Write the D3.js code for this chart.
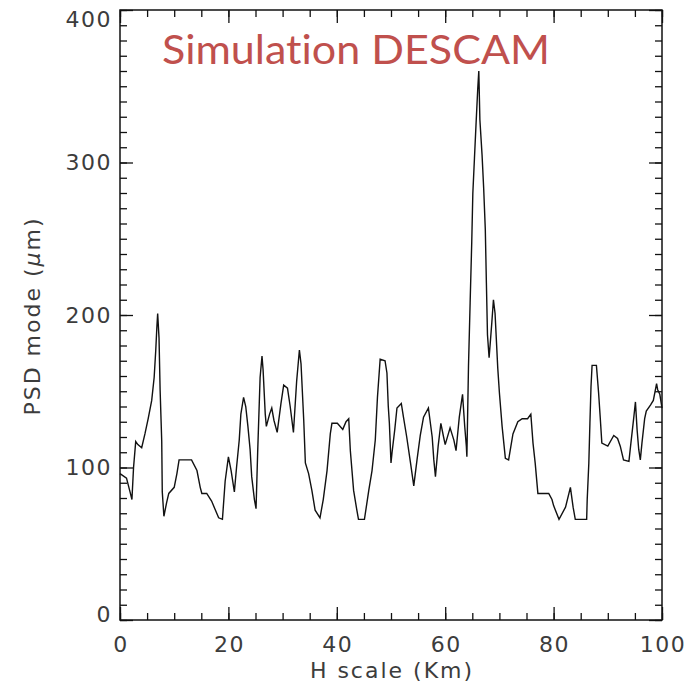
<!DOCTYPE html>
<html>
<head>
<meta charset="utf-8">
<script src="https://cdn.jsdelivr.net/npm/d3@7"></script>
<style>
  body { margin: 0; background: #fff; }
  text { font-variant-ligatures: none; }
</style>
</head>
<body>
<div id="chart"></div>
<script>
// H scale (km) and PSD mode (um)
var hScale = [0, 1.2, 1.85, 2.2, 2.5, 2.9, 3.3, 4.0, 4.6, 5.2, 5.85, 6.3, 6.6, 6.8, 6.95, 7.2, 7.4, 7.7, 7.8, 8.1,
  8.6, 9.0, 10.0, 10.5, 10.9, 13.2, 14.2, 14.8, 15.1, 16.0, 16.9, 18.2, 18.9, 19.4, 20.0, 20.5, 21.1, 21.5, 22.0, 22.3,
  22.8, 23.2, 23.6, 24.0, 24.3, 24.8, 25.1, 25.4, 25.85, 26.2, 26.4, 26.8, 27.0, 27.6, 28.0, 28.4, 29.0, 29.7, 30.2, 30.9,
  31.4, 32.0, 32.6, 32.9, 33.1, 33.4, 33.9, 34.2, 34.8, 35.4, 36.0, 36.9, 37.5, 38.2, 38.8, 39.1, 40.1, 41.1, 41.7, 42.2,
  42.5, 43.1, 43.7, 44.0, 45.1, 45.9, 46.5, 47.1, 47.5, 48.0, 48.9, 49.25, 49.5, 49.7, 50.0, 50.2, 50.7, 51.1, 51.9, 52.3,
  52.9, 53.6, 54.2, 54.8, 55.4, 56.0, 56.9, 57.6, 57.9, 58.2, 58.7, 59.2, 59.7, 60.0, 60.9, 61.6, 62.0, 62.6, 63.0, 63.2,
  63.6, 63.9, 64.0, 64.3, 64.6, 64.9, 65.1, 65.4, 65.7, 66.0, 66.2, 66.4, 66.8, 67.1, 67.4, 67.6, 67.8, 68.1, 68.3, 68.6,
  68.9, 69.2, 69.7, 70.0, 70.5, 71.1, 71.7, 72.5, 73.4, 74.2, 75.2, 75.8, 76.2, 76.6, 77.1, 79.1, 79.7, 80.0, 81.0, 82.2,
  83.1, 83.6, 84.0, 86.1, 86.2, 86.5, 86.7, 86.9, 87.1, 87.9, 88.3, 88.6, 88.9, 90.0, 91.1, 91.8, 92.3, 92.9, 93.9, 94.2,
  94.8, 95.1, 95.4, 95.7, 96.0, 96.3, 96.8, 97.1, 97.9, 98.4, 99.0, 99.2, 99.6, 100.0];
var psdMode = [96, 93, 84, 79, 100, 117, 115, 113, 122, 132, 144, 159, 177, 192, 201, 185, 151, 117, 84, 68,
  77, 83, 87, 96, 105, 105, 98, 87, 83, 83, 78, 67, 66, 91, 107, 98, 84, 100, 118, 135,
  146, 140, 127, 112, 94, 79, 73, 110, 159, 173, 164, 135, 127, 135, 139, 131, 123, 142, 154, 152,
  140, 123, 157, 169, 177, 168, 131, 103, 96, 85, 72, 67, 79, 98, 122, 129, 129, 125, 130, 132,
  111, 85, 72, 66, 66, 85, 98, 118, 146, 171, 170, 162, 140, 129, 103, 110, 125, 139, 142, 133,
  120, 103, 88, 105, 121, 133, 139, 120, 105, 94, 114, 129, 120, 115, 126, 118, 111, 133, 143, 148,
  127, 114, 107, 167, 208, 248, 280, 303, 326, 348, 360, 328, 305, 283, 256, 221, 187, 172, 181, 195,
  210, 201, 165, 149, 127, 106, 105, 122, 130, 132, 132, 135, 116, 103, 83, 83, 79, 75, 66, 74,
  87, 74, 66, 66, 79, 103, 129, 153, 167, 167, 149, 133, 116, 114, 121, 119, 114, 105, 104, 114,
  133, 143, 125, 112, 105, 116, 132, 137, 141, 144, 155, 151, 148, 139];

var xMajor = [0, 20, 40, 60, 80, 100];
var yMajor = [0, 100, 200, 300, 400];
var xMinor = d3.range(0, 101, 5);
var yMinor = d3.range(0, 401, 10);

var width = 697, height = 686;
var plotL = 120, plotR = 662, plotT = 10, plotB = 620;

var svg = d3.select('#chart').append('svg')
  .attr('width', width)
  .attr('height', height);

var x = d3.scaleLinear().domain([0, 100]).range([plotL, plotR]);
var y = d3.scaleLinear().domain([0, 400]).range([plotB, plotT]);

// ticks on all four sides, pointing inwards
function ticks(axis, vals, size, tx, ty) {
  var g = svg.append('g')
    .attr('transform', 'translate(' + tx + ',' + ty + ')')
    .call(axis.tickValues(vals).tickSize(size).tickFormat(''));
  g.select('.domain').remove();
  g.selectAll('line').attr('stroke', '#111').attr('stroke-width', 1.3);
}
ticks(d3.axisLeft(y), yMinor, -7, plotL, 0);
ticks(d3.axisLeft(y), yMajor, -13, plotL, 0);
ticks(d3.axisRight(y), yMinor, -7, plotR, 0);
ticks(d3.axisRight(y), yMajor, -13, plotR, 0);
ticks(d3.axisBottom(x), xMinor, -7, 0, plotB);
ticks(d3.axisBottom(x), xMajor, -13, 0, plotB);
ticks(d3.axisTop(x), xMinor, -7, 0, plotT);
ticks(d3.axisTop(x), xMajor, -13, 0, plotT);

svg.append('rect')
  .attr('x', plotL).attr('y', plotT)
  .attr('width', plotR - plotL).attr('height', plotB - plotT)
  .attr('fill', 'none')
  .attr('stroke', '#111')
  .attr('stroke-width', 1.5);

// tick labels
var labelFont = '"DejaVu Sans", sans-serif';
var labelColor = '#3c3c3c';
svg.selectAll('.ylab').data(yMajor).enter().append('text')
  .attr('x', plotL - 8)
  .attr('y', function(d) { return Math.min(Math.max(y(d), plotT + 9), plotB - 6); })
  .attr('dy', '0.36em')
  .attr('text-anchor', 'end')
  .attr('font-family', labelFont)
  .attr('font-size', 22)
  .attr('letter-spacing', 1.5)
  .attr('fill', labelColor)
  .text(function(d) { return d; });

svg.selectAll('.xlab').data(xMajor).enter().append('text')
  .attr('x', function(d) { return x(d) + 1; })
  .attr('y', 652)
  .attr('text-anchor', 'middle')
  .attr('font-family', labelFont)
  .attr('font-size', 22)
  .attr('letter-spacing', 1.5)
  .attr('fill', labelColor)
  .text(function(d) { return d; });

svg.append('text')
  .attr('x', (plotL + plotR) / 2 + 1)
  .attr('y', 678)
  .attr('text-anchor', 'middle')
  .attr('font-family', labelFont)
  .attr('font-size', 22)
  .attr('letter-spacing', 2)
  .attr('fill', labelColor)
  .text('H scale (Km)');

var yt = svg.append('text')
  .attr('transform', 'translate(40,316) rotate(-90)')
  .attr('text-anchor', 'middle')
  .attr('font-family', labelFont)
  .attr('font-size', 22)
  .attr('letter-spacing', 2)
  .attr('fill', labelColor);
yt.append('tspan').text('PSD mode (');
yt.append('tspan').attr('font-style', 'italic').text('\u03bc');
yt.append('tspan').text('m)');

// data line
var line = d3.line()
  .x(function(d) { return x(d[0]); })
  .y(function(d) { return y(d[1]); });

svg.append('path')
  .datum(d3.zip(hScale, psdMode))
  .attr('d', line)
  .attr('fill', 'none')
  .attr('stroke', '#111')
  .attr('stroke-width', 1.4)
  .attr('stroke-linejoin', 'miter');

svg.append('text')
  .attr('x', 162)
  .attr('y', 64)
  .attr('font-family', 'Lato, "Open Sans", sans-serif')
  .attr('font-size', 40)
  .attr('fill', '#c0504d')
  .attr('textLength', 388)
  .attr('lengthAdjust', 'spacingAndGlyphs')
  .text('Simulation DESCAM');
</script>
</body>
</html>
